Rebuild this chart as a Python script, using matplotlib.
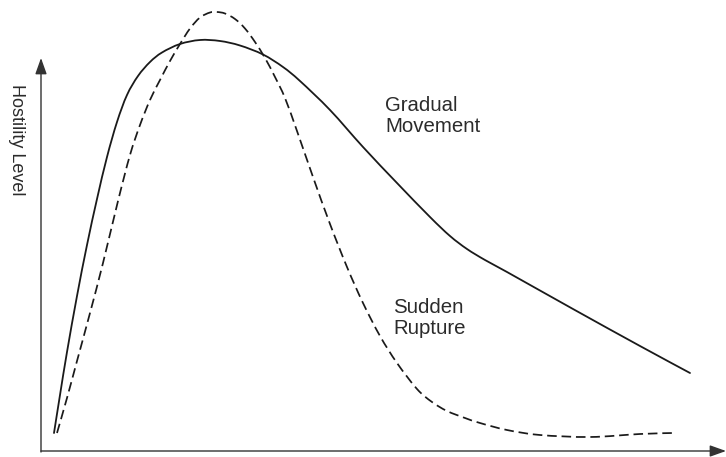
import matplotlib
matplotlib.use("Agg")
import matplotlib.pyplot as plt
from matplotlib.path import Path
from matplotlib.patches import PathPatch

plt.rcParams['font.family'] = ['Liberation Sans', 'DejaVu Sans']

# Time (x) and hostility level (y), arbitrary units
gradual_t = [13, 19, 26, 36, 46, 56, 66, 76, 86, 97, 109, 121, 139, 159, 179, 199,
             222, 242, 259, 289, 322, 356, 389, 409, 426, 444, 466, 532, 599, 649]
gradual_h = [18, 56, 99, 155, 206, 252, 294, 329, 356, 375, 389, 398.5, 407, 411, 410,
             405.5, 396.5, 384, 370, 341, 304, 268, 234, 215, 202, 191, 179, 142, 105, 78]

sudden_t = [16, 26, 36, 49, 62, 77, 89, 99, 109, 119, 129, 139, 149, 159, 169, 176,
            184, 194, 204, 214, 224, 234, 244, 256, 272, 289, 306, 322, 339, 356,
            376, 391, 406, 424, 439, 466, 499, 549, 599, 632]
sudden_h = [18, 53, 90, 138, 188, 250, 296, 326, 351, 371, 390, 407, 422.5, 433.5, 438.5,
            439, 437.5, 432, 422.5, 409, 393, 374, 353, 320, 274, 227, 184, 148, 115, 88,
            62, 49, 40, 33, 28, 21, 16, 14, 17, 18]


def smooth_path(xs, ys):
    """Smooth curve through the given points (Catmull-Rom drawn as cubic Beziers)."""
    pts = list(zip(xs, ys))
    verts = [pts[0]]
    codes = [Path.MOVETO]
    n = len(pts)
    for i in range(n - 1):
        p0 = pts[i - 1] if i > 0 else pts[i]
        p1 = pts[i]
        p2 = pts[i + 1]
        p3 = pts[i + 2] if i + 2 < n else pts[i + 1]
        c1 = (p1[0] + (p2[0] - p0[0]) / 6.0, p1[1] + (p2[1] - p0[1]) / 6.0)
        c2 = (p2[0] - (p3[0] - p1[0]) / 6.0, p2[1] - (p3[1] - p1[1]) / 6.0)
        verts += [c1, c2, p2]
        codes += [Path.CURVE4] * 3
    return Path(verts, codes)


fig = plt.figure(figsize=(7.26, 4.57), dpi=100)
ax = fig.add_axes([0, 0, 1, 1])
ax.set_xlim(-41, 685)
ax.set_ylim(-6, 451)
ax.axis('off')

line_col = '#1a1a1a'
ax.add_patch(PathPatch(smooth_path(gradual_t, gradual_h), facecolor='none',
                       edgecolor=line_col, lw=1.3, capstyle='round', joinstyle='round'))
ax.add_patch(PathPatch(smooth_path(sudden_t, sudden_h), facecolor='none',
                       edgecolor=line_col, lw=1.25, linestyle=(0, (5.5, 2.8))))

axis_col = '#333333'
arrow = dict(arrowstyle='-|>,head_length=0.7,head_width=0.25', lw=1.0,
             color=axis_col, shrinkA=0, shrinkB=0, mutation_scale=14)
ax.annotate('', xy=(0, 393), xytext=(0, -1), arrowprops=arrow)
ax.annotate('', xy=(685, 0), xytext=(0, 0), arrowprops=arrow)

txt_col = '#2b2b2b'
ax.text(344, 355, 'Gradual\nMovement', fontsize=14.7, color=txt_col,
        ha='left', va='top', linespacing=1.15)
ax.text(352, 153, 'Sudden\nRupture', fontsize=14.7, color=txt_col,
        ha='left', va='top', linespacing=1.15)
ax.text(-25, 311, 'Hostility Level', fontsize=13, color=txt_col,
        rotation=270, ha='center', va='center')

fig.savefig('out.png', dpi=100)
